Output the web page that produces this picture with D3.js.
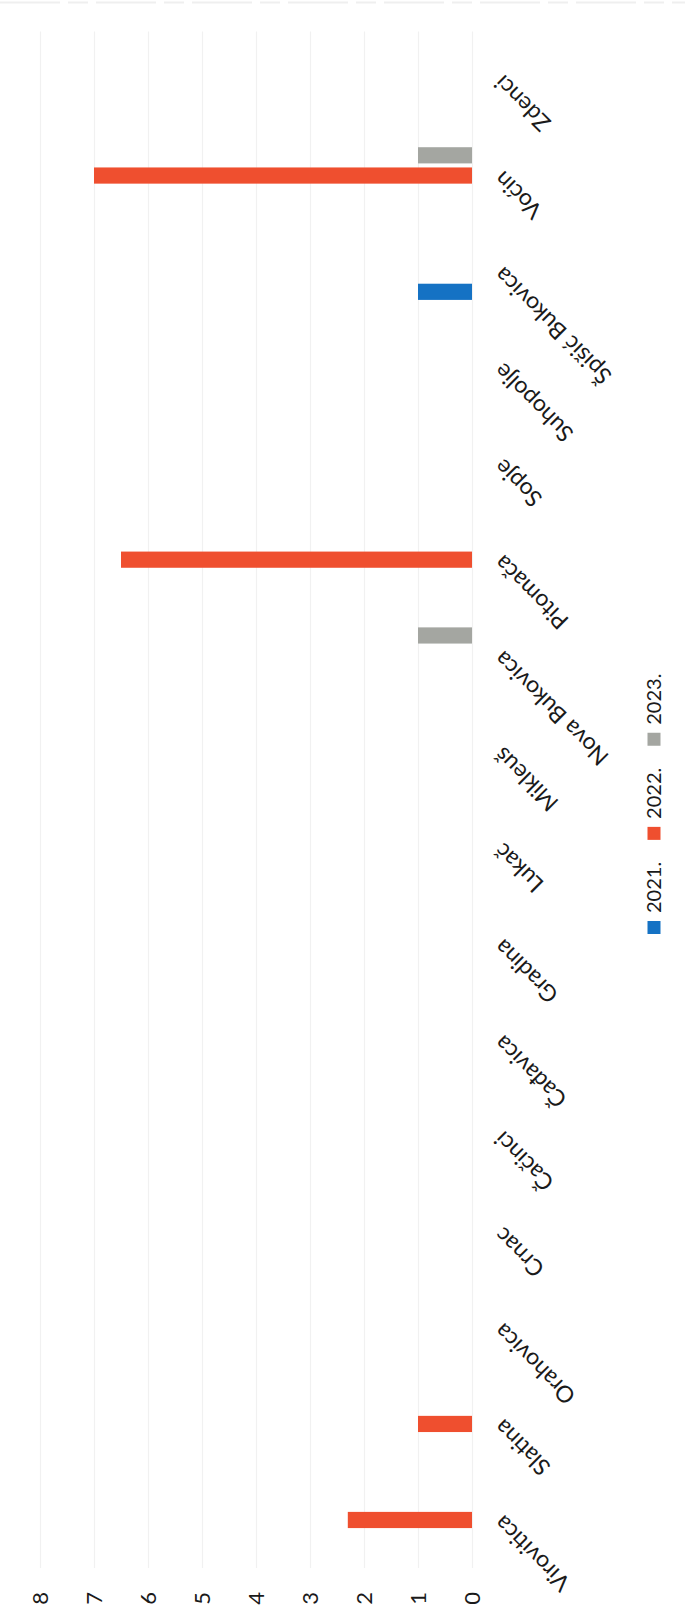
<!DOCTYPE html>
<html>
<head>
<meta charset="utf-8">
<script src="https://cdn.jsdelivr.net/npm/d3@7"></script>
<style>
  html, body { margin: 0; padding: 0; background: #fff; }
  svg { display: block; }
  text { font-family: Lato, "Open Sans", sans-serif; fill: #1a1a1a; }
</style>
</head>
<body>
<svg id="chart" width="685" height="1618"></svg>
<script>
// ---- data ----
const categories = ["Virovitica", "Slatina", "Orahovica", "Crnac", "Čačinci", "Čađavica", "Gradina", "Lukač", "Mikleuš", "Nova Bukovica", "Pitomača", "Sopje", "Suhopolje", "Špišić Bukovica", "Voćin", "Zdenci"];
const seriesNames = ["2021.", "2022.", "2023."];
const values2021 = [0, 0, 0, 0, 0, 0, 0, 0, 0, 0, 0, 0, 0, 1, 0, 0];
const values2022 = [2.3, 1, 0, 0, 0, 0, 0, 0, 0, 0, 6.5, 0, 0, 0, 7, 0];
const values2023 = [0, 0, 0, 0, 0, 0, 0, 0, 0, 1, 0, 0, 0, 0, 1, 0];
const yTicks = [0, 1, 2, 3, 4, 5, 6, 7, 8];
const seriesColors = ["#1572c4", "#ef4f2f", "#a4a6a1"];

const seriesValues = [values2021, values2022, values2023];

// The chart is drawn in its natural (unrotated) frame and the whole
// frame is turned 90° counter-clockwise, as in the scanned page.
const W = 1618, H = 685;
const svg = d3.select("#chart");
const g = svg.append("g").attr("transform", `translate(0,${W}) rotate(-90)`);

const x0 = d3.scaleBand().domain(categories).range([50, 1586.5])
  .paddingInner(0.41).paddingOuter(0.205);
const x1 = d3.scaleBand().domain(seriesNames).range([0, x0.bandwidth()]).paddingInner(0.2);
const y = d3.scaleLinear().domain([0, 8]).range([472, 40]);
const color = d3.scaleOrdinal().domain(seriesNames).range(seriesColors);

// faint frame line at the top of the page
g.append("line").attr("x1", W - 2.5).attr("x2", W - 2.5).attr("y1", 0).attr("y2", H)
  .attr("stroke", "#efefef").attr("stroke-width", 2).attr("stroke-dasharray", "60 8 20 8");

// gridlines
const grid = d3.axisLeft(y).tickValues(yTicks).tickSize(-(x0.range()[1] - x0.range()[0])).tickFormat("");
g.append("g").attr("transform", `translate(${x0.range()[0]},0)`).call(grid)
  .call(s => s.select(".domain").remove())
  .call(s => s.selectAll("line").attr("stroke", "#f1f1f1").attr("stroke-width", 1.2));

// value axis labels
const yAxis = d3.axisLeft(y).tickValues(yTicks).tickSize(0).tickPadding(0).tickFormat(d3.format("d"));
g.append("g").attr("transform", `translate(26,0)`).call(yAxis)
  .call(s => s.select(".domain").remove())
  .call(s => s.selectAll("text").attr("font-size", 22).style("font-family", "Lato, sans-serif").attr("fill", "#1a1a1a"));

// bars
const rows = categories.map((c, i) => ({ cat: c, vals: seriesNames.map((s, j) => ({ s, v: seriesValues[j][i] })) }));
const cg = g.append("g").selectAll("g").data(rows).join("g")
  .attr("transform", d => `translate(${x0(d.cat)},0)`);
cg.selectAll("rect").data(d => d.vals.filter(e => e.v > 0)).join("rect")
  .attr("x", e => x1(e.s)).attr("width", x1.bandwidth())
  .attr("y", e => y(e.v)).attr("height", e => y(0) - y(e.v))
  .attr("fill", e => color(e.s));

// category labels
const xAxis = d3.axisBottom(x0).tickSize(0).tickPadding(0);
g.append("g").attr("transform", `translate(0,${y(0)})`).call(xAxis)
  .call(s => s.select(".domain").remove())
  .call(s => s.selectAll("text")
    .attr("font-size", 23).style("font-family", "Lato, sans-serif").attr("fill", "#1a1a1a")
    .attr("text-anchor", "end").attr("dy", null).attr("y", null)
    .attr("transform", "translate(6,32) rotate(-45)"));

// legend
const legend = g.append("g").attr("transform", "translate(684,654)");
let lx = 0;
seriesNames.forEach((s, i) => {
  const item = legend.append("g").attr("transform", `translate(${lx},0)`);
  item.append("rect").attr("x", 0).attr("y", -6.5).attr("width", 13).attr("height", 13).attr("fill", color(s));
  const t = item.append("text").attr("x", 21).attr("y", 0).attr("dy", "0.35em")
    .attr("font-size", 20).text(s);
  lx += 21 + t.node().getComputedTextLength() + 22;
});
</script>
</body>
</html>
